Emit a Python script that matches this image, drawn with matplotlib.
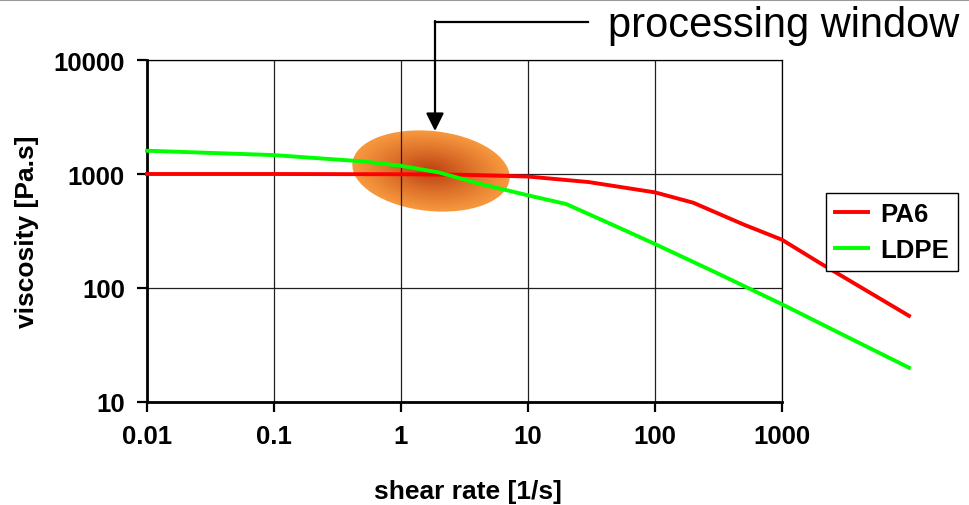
"""
Viscosity vs shear rate: PA6 / LDPE with processing window
"""

import numpy as np
import matplotlib
matplotlib.use('Agg')
import matplotlib.pyplot as plt
from matplotlib.patches import Ellipse
from matplotlib.lines import Line2D

plt.rcParams['font.family'] = ['Liberation Sans', 'DejaVu Sans']

# ============================================================
# data
# ============================================================
pa6_rate = [0.01, 0.1, 1, 3, 10, 30, 100, 200, 500, 1000, 2000, 10000]
pa6_visc = [1000, 1000, 995, 985, 950, 850, 690, 560, 360, 265, 165, 57]

ldpe_rate = [0.01, 0.1, 0.5, 1, 2, 4, 10, 20, 50, 100, 300, 1000, 3000, 10000]
ldpe_visc = [1600, 1465, 1290, 1180, 1030, 830, 650, 545, 345, 243, 137, 72, 39, 20]

x_ticks = [0.01, 0.1, 1, 10, 100, 1000]
x_tick_labels = ['0.01', '0.1', '1', '10', '100', '1000']
y_ticks = [10, 100, 1000, 10000]
y_tick_labels = ['10', '100', '1000', '10000']

W, H = 970, 506
fig = plt.figure(figsize=(W / 100, H / 100), dpi=100)
ax = fig.add_axes([147 / W, (H - 403) / H, (782 - 147) / W, (403 - 61) / H])

ax.set_xscale('log')
ax.set_yscale('log')
ax.set_xlim(0.01, 1000)
ax.set_ylim(10, 10000)

# processing window: radial orange gradient built from nested ellipses
outer = np.array([247, 152, 62]) / 255
inner = np.array([188, 62, 16]) / 255
n = 50
for i in range(n):
    r = 1 - i / n
    t = (1 - r) ** 1.1
    col = outer + (inner - outer) * t
    ax.add_patch(Ellipse((4.31, (H - 172) / 100), 1.58 * r, 0.80 * r, angle=-6,
                         transform=fig.dpi_scale_trans, facecolor=col,
                         edgecolor='none', zorder=0.5))

# grid
ax.grid(True, which='major', color='#202020', linewidth=0.9)
ax.minorticks_off()

# curves (run past the 1000 border like the original)
ax.plot(pa6_rate, pa6_visc, color='#ff0000', lw=2.8, label='PA6', clip_on=False, zorder=3)
ax.plot(ldpe_rate, ldpe_visc, color='#00ff00', lw=2.8, label='LDPE', clip_on=False, zorder=3)

# ticks / spines
ax.set_xticks(x_ticks)
ax.set_xticklabels(x_tick_labels)
ax.set_yticks(y_ticks)
ax.set_yticklabels(y_tick_labels)
ax.tick_params(axis='both', which='major', direction='out', length=7, width=1.6,
               labelsize=18.5, pad=9, color='black')
for lbl in ax.get_xticklabels() + ax.get_yticklabels():
    lbl.set_fontweight('bold')
ax.spines['left'].set_linewidth(2)
ax.spines['bottom'].set_linewidth(2)
ax.spines['top'].set_linewidth(0.9)
ax.spines['right'].set_linewidth(0.9)

ax.set_xlabel('shear rate [1/s]', fontsize=19, fontweight='bold')
ax.set_ylabel('viscosity [Pa.s]', fontsize=19, fontweight='bold')
ax.xaxis.set_label_coords(0.505, -0.225)
ax.yaxis.set_label_coords(-0.17, 0.5)

leg = ax.legend(loc='upper left', bbox_to_anchor=(826 / W, 1 - 194 / H),
                bbox_transform=fig.transFigure, borderaxespad=0,
                prop={'size': 18.5, 'weight': 'bold'}, fancybox=False,
                edgecolor='black', handlelength=1.3, handletextpad=0.45,
                borderpad=0.35, labelspacing=0.45, framealpha=1)
leg.get_frame().set_linewidth(1)

# "processing window" annotation with bent arrow
fig.text(608 / W, 1 - 37 / H, 'processing window', fontsize=30, ha='left',
         va='baseline')
fig.add_artist(Line2D([435 / W, 588 / W], [1 - 23 / H, 1 - 23 / H],
                      transform=fig.transFigure, color='black', lw=1.6))
ax.annotate('', xy=(435, H - 132), xytext=(435, H - 22),
            xycoords='figure pixels', textcoords='figure pixels',
            arrowprops=dict(arrowstyle='-|>,head_length=0.9,head_width=0.45',
                            mutation_scale=12, color='black', lw=1.6,
                            shrinkA=0, shrinkB=0))

# thin gray rule at the very top
fig.add_artist(Line2D([0, 1], [1 - 1 / H, 1 - 1 / H], transform=fig.transFigure,
                      color='#999999', lw=1.5))

fig.savefig('out.png', dpi=100)
